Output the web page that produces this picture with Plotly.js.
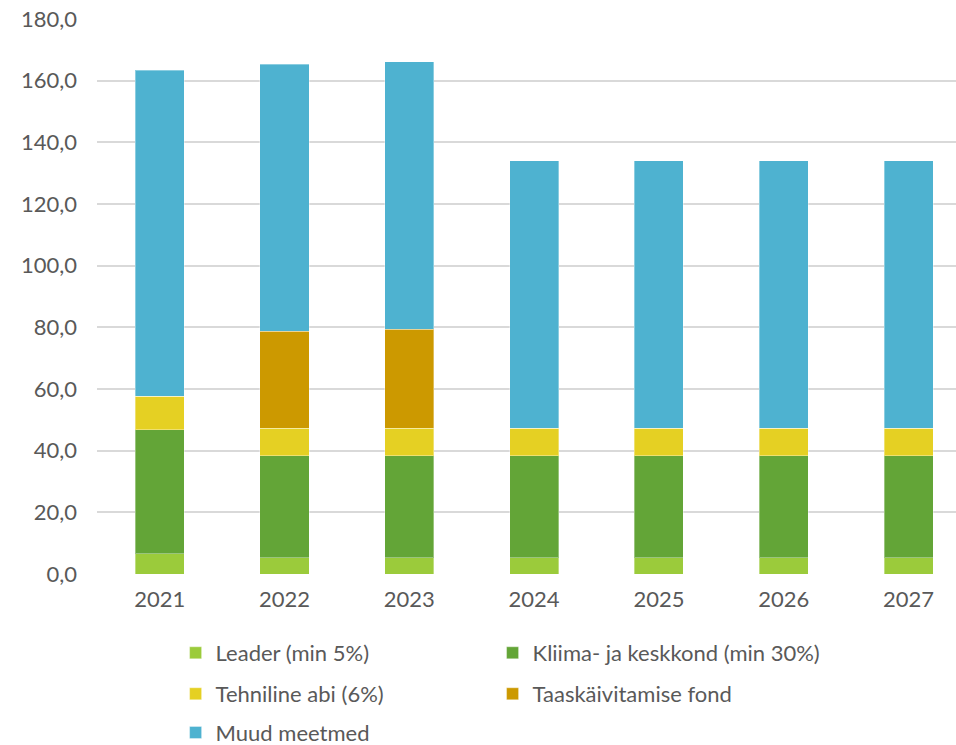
<!DOCTYPE html>
<html>
<head>
<meta charset="utf-8">
<script src="https://cdn.plot.ly/plotly-3.0.1.min.js"></script>
<style>html,body{margin:0;padding:0;background:#fff;}#chart{width:956px;height:745px;}</style>
</head>
<body>
<div id="chart"></div>
<script>
const years = ["2021", "2022", "2023", "2024", "2025", "2026", "2027"];
const leader = [6.6, 5.3, 5.3, 5.3, 5.3, 5.3, 5.3];
const kliima = [40.2, 33.1, 33.1, 33.1, 33.1, 33.1, 33.1];
const tehniline = [10.8, 8.9, 8.9, 8.9, 8.9, 8.9, 8.9];
const taaskaivitamine = [0, 31.5, 32.1, 0, 0, 0, 0];
const muud = [105.7, 86.6, 86.7, 86.7, 86.7, 86.7, 86.7];
const seriesNames = ["Leader (min 5%)", "Kliima- ja keskkond (min 30%)", "Tehniline abi (6%)", "Taaskäivitamise fond", "Muud meetmed"];
const yTicks = [0, 20, 40, 60, 80, 100, 120, 140, 160, 180];
const yTickText = ["0,0", "20,0", "40,0", "60,0", "80,0", "100,0", "120,0", "140,0", "160,0", "180,0"];

const colors = ["#9BCB3B", "#63A537", "#E5D023", "#CC9900", "#4EB2D0"];
const values = [leader, kliima, tehniline, taaskaivitamine, muud];
const legendIds = ["legend", "legend2", "legend3", "legend4", "legend5"];

const traces = values.map((v, i) => ({
  type: "bar",
  x: years,
  y: v,
  name: seriesNames[i],
  legend: legendIds[i],
  marker: {color: colors[i], line: {color: "rgba(255,255,255,0.35)", width: 1}},
  hoverinfo: "x+y+name"
}));

const textFont = {family: "Lato, 'Open Sans', sans-serif", size: 22, color: "#595959"};
const legendBase = {
  orientation: "h",
  xref: "paper",
  yref: "container",
  xanchor: "left",
  yanchor: "middle",
  itemwidth: 30,
  font: textFont,
  bgcolor: "rgba(0,0,0,0)"
};
const col1 = 0.0915, col2 = 0.4605;
const row1 = 0.1235, row2 = 0.0685, row3 = 0.0165;

const layout = {
  width: 956,
  height: 745,
  margin: {l: 97, r: 0, t: 18.6, b: 170.7, autoexpand: false},
  paper_bgcolor: "#ffffff",
  plot_bgcolor: "#ffffff",
  barmode: "stack",
  bargap: 0.607,
  showlegend: true,
  font: textFont,
  xaxis: {
    type: "category",
    range: [-0.502, 6.38],
    showgrid: false,
    showline: false,
    zeroline: false,
    ticks: "",
    tickfont: textFont,
    ticklabelstandoff: 10,
    fixedrange: true
  },
  yaxis: {
    range: [0, 180],
    tickvals: yTicks,
    ticktext: yTickText,
    showgrid: true,
    gridcolor: "#D9D9D9",
    gridwidth: 1.5,
    zeroline: false,
    showline: false,
    ticks: "",
    tickfont: textFont,
    ticklabelstandoff: 19,
    fixedrange: true
  },
  legend: Object.assign({}, legendBase, {x: col1, y: row1}),
  legend2: Object.assign({}, legendBase, {x: col2, y: row1}),
  legend3: Object.assign({}, legendBase, {x: col1, y: row2}),
  legend4: Object.assign({}, legendBase, {x: col2, y: row2}),
  legend5: Object.assign({}, legendBase, {x: col1, y: row3})
};

Plotly.newPlot("chart", traces, layout, {displayModeBar: false, responsive: false});
</script>
</body>
</html>
